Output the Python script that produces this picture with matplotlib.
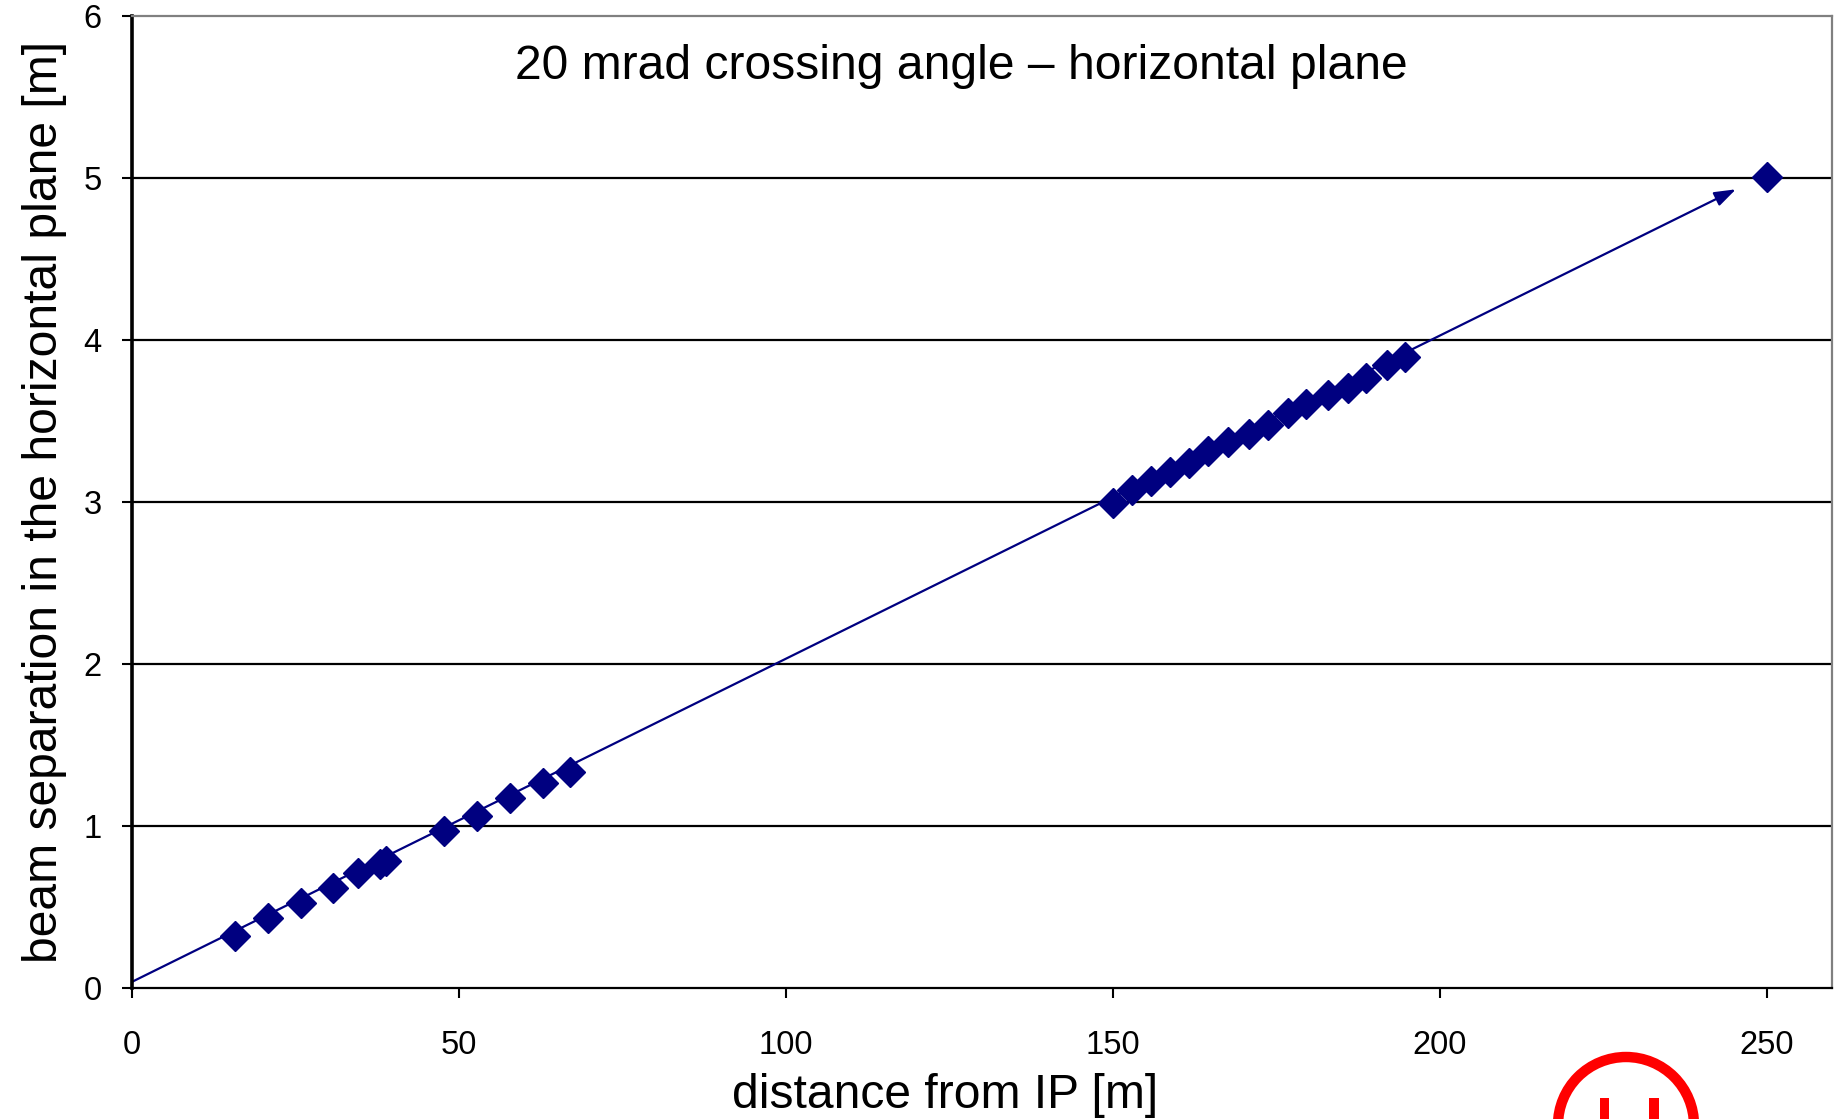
import matplotlib
matplotlib.use("Agg")
import matplotlib.pyplot as plt
from matplotlib.patches import Arc, Rectangle

plt.rcParams['font.family'] = ['Liberation Sans', 'DejaVu Sans']

# magnet positions along the beam line and the beam separation there
dist_inner = [15.8, 20.8, 25.9, 30.8, 34.6, 37.9, 38.8, 47.7, 52.8, 57.8, 62.9, 67.0]
sep_inner = [0.325, 0.436, 0.528, 0.621, 0.714, 0.767, 0.788, 0.971, 1.064, 1.173, 1.265, 1.337]
dist_outer = [150.1, 152.9, 155.9, 158.7, 161.7, 164.6, 167.6, 170.9, 173.8,
              176.8, 179.6, 182.9, 186.0, 188.8, 191.9, 194.7, 250.0]
sep_outer = [2.994, 3.076, 3.132, 3.183, 3.241, 3.313, 3.371, 3.420, 3.473,
             3.549, 3.605, 3.658, 3.707, 3.765, 3.848, 3.893, 5.006]

# 20 mrad line drawn as an arrow
arrow_start = (0, 0.04)
arrow_end = (245.3, 4.93)

xticks = [0, 50, 100, 150, 200, 250]
yticks = [0, 1, 2, 3, 4, 5, 6]

navy = "#000080"

fig = plt.figure(figsize=(18.34, 11.19), dpi=100)
ax = fig.add_axes([0.072, 0.1168, 0.9269, 0.869])

ax.set_xlim(0, 260)
ax.set_ylim(0, 6)

for y in yticks[1:-1]:
    ax.axhline(y, color="black", lw=1.6, zorder=1)

ax.annotate("", xy=arrow_end, xytext=arrow_start,
            arrowprops=dict(arrowstyle="-|>,head_length=1.3,head_width=0.45",
                            color=navy, lw=1.6, shrinkA=0, shrinkB=0),
            zorder=2)

ax.plot(dist_inner + dist_outer, sep_inner + sep_outer, ls="none",
        marker="D", ms=15, color=navy, mec=navy, zorder=3)

ax.text(126.8, 5.69, "20 mrad crossing angle \u2013 horizontal plane",
        ha="center", va="center", fontsize=34.6)

ax.set_xticks(xticks)
ax.set_yticks(yticks)
ax.tick_params(axis="x", direction="out", length=7, width=1.5, pad=23, labelsize=23.5)
ax.tick_params(axis="y", direction="out", length=7, width=1.5, pad=15, labelsize=23.5)

ax.spines["left"].set_linewidth(2.6)
ax.spines["bottom"].set_linewidth(1.6)
for s in ("top", "right"):
    ax.spines[s].set_color("#808080")
    ax.spines[s].set_linewidth(1.6)

ax.set_xlabel("distance from IP [m]", fontsize=34.6)
ax.xaxis.set_label_coords(0.4785, -0.087)
ax.set_ylabel("beam separation in the horizontal plane [m]", fontsize=34.6, labelpad=12)

# red logo peeking in at the bottom right
logo = fig.add_axes([0, 0, 1, 1], zorder=-1)
logo.set_xlim(0, 1834)
logo.set_ylim(1119, 0)
logo.axis("off")
logo.add_patch(Arc((1626, 1125), 136, 136, theta1=180, theta2=360,
                   color="#ff0000", lw=7.5))
logo.add_patch(Rectangle((1600, 1098), 9, 30, color="#ff0000", lw=0))
logo.add_patch(Rectangle((1649, 1098), 10, 30, color="#ff0000", lw=0))

fig.savefig("out.png", dpi=100)
